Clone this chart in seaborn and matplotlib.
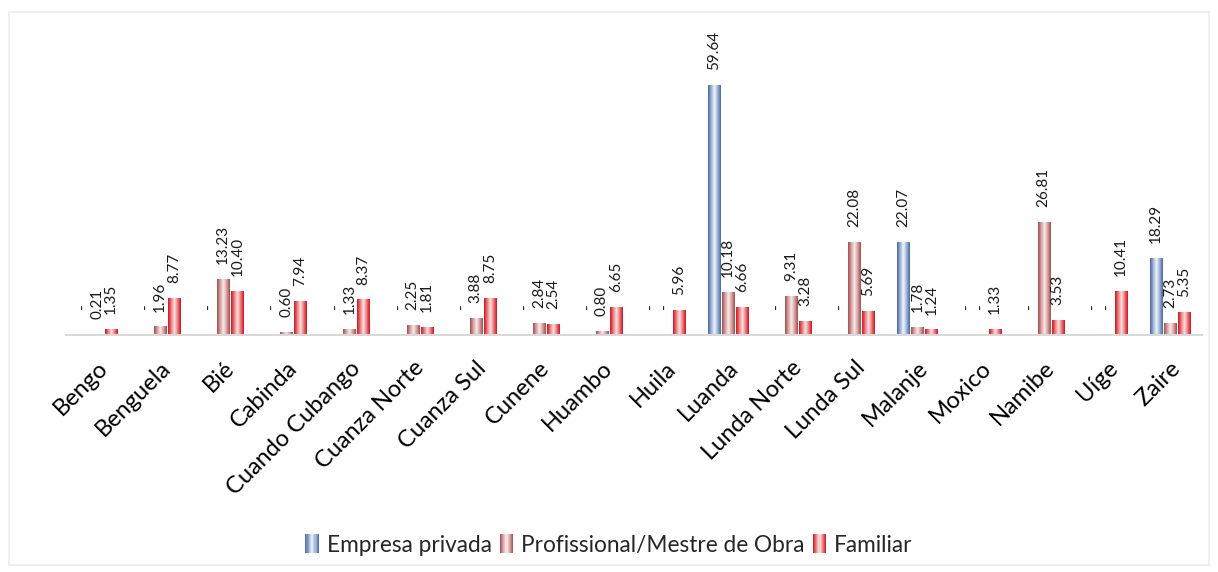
import numpy as np
import pandas as pd
import matplotlib
matplotlib.use("Agg")
import matplotlib.pyplot as plt
from matplotlib.colors import LinearSegmentedColormap
from matplotlib.legend_handler import HandlerBase
from matplotlib.patches import Rectangle
import seaborn as sns

# ----------------------------
# Data
# ----------------------------
provincias = ["Bengo", "Benguela", "Bié", "Cabinda", "Cuando Cubango",
              "Cuanza Norte", "Cuanza Sul", "Cunene", "Huambo", "Huila",
              "Luanda", "Lunda Norte", "Lunda Sul", "Malanje", "Moxico",
              "Namibe", "Uíge", "Zaire"]
series = ["Empresa privada", "Profissional/Mestre de Obra", "Familiar"]

empresa_privada = [0, 0, 0, 0, 0, 0, 0, 0, 0, 0,
                   59.64, 0, 0, 22.07, 0, 0, 0, 18.29]
profissional = [0.21, 1.96, 13.23, 0.60, 1.33, 2.25, 3.88, 2.84, 0.80, 0,
                10.18, 9.31, 22.08, 1.78, 0, 26.81, 0, 2.73]
familiar = [1.35, 8.77, 10.40, 7.94, 8.37, 1.81, 8.75, 2.54, 6.65, 5.96,
            6.66, 3.28, 5.69, 1.24, 1.33, 3.53, 10.41, 5.35]

# gradient colours per series: edge, mid, centre
grad_colors = {
    "Empresa privada": ["#45689f", "#9db3d6", "#f2f5fb"],
    "Profissional/Mestre de Obra": ["#a44c4c", "#d7a0a0", "#f8ecec"],
    "Familiar": ["#cf141c", "#ea7b7e", "#fde4e4"],
}


def make_cmap(name):
    edge, mid, centre = grad_colors[name]
    return LinearSegmentedColormap.from_list(name, [edge, mid, centre, mid, edge])


class GradientHandler(HandlerBase):
    def __init__(self, cmap):
        super().__init__()
        self.cmap = cmap

    def create_artists(self, legend, orig_handle, xdescent, ydescent,
                       width, height, fontsize, trans):
        n = 12
        w = width / n
        arts = []
        for i in range(n):
            r = Rectangle((-xdescent + i * w, -ydescent), w * 1.05, height,
                          facecolor=self.cmap((i + 0.5) / n), edgecolor="none",
                          transform=trans)
            arts.append(r)
        return arts


def main():
    sns.set_theme(style="white")
    plt.rcParams["font.family"] = ["Lato", "DejaVu Sans"]

    df = pd.DataFrame({
        "provincia": provincias * 3,
        "serie": [s for s in series for _ in provincias],
        "valor": empresa_privada + profissional + familiar,
    })

    fig = plt.figure(figsize=(12.18, 5.72), dpi=100)
    ax = fig.add_axes([65.5 / 1218, 237 / 572, 1136 / 1218, 320 / 572])

    sns.barplot(data=df, x="provincia", y="valor", hue="serie",
                hue_order=series, order=provincias, width=0.667, gap=0.14,
                legend=False, ax=ax, errorbar=None)

    cmaps = {s: make_cmap(s) for s in series}
    grad = np.linspace(0, 1, 64).reshape(1, -1)

    for cont, s in zip(ax.containers, series):
        for patch, val in zip(cont.patches, df.loc[df.serie == s, "valor"]):
            x, w, h = patch.get_x(), patch.get_width(), patch.get_height()
            if h > 0:
                ax.imshow(grad, cmap=cmaps[s], extent=(x, x + w, 0, h),
                          aspect="auto", interpolation="bilinear", zorder=2)
            patch.set_facecolor("none")
            patch.set_edgecolor("none")
            if val > 0:
                ax.annotate(f"{val:.2f}", (x + w / 2, h), xytext=(0, 11),
                            textcoords="offset points", rotation=90,
                            ha="center", va="bottom", fontsize=11,
                            color="#1a1a1a")
            else:
                ax.annotate("-", (x + w / 2, 0), xytext=(0, 19),
                            textcoords="offset points", rotation=90,
                            ha="center", va="bottom", fontsize=11,
                            color="#1a1a1a")

    ax.set_xlim(-0.5, len(provincias) - 0.5)
    ax.set_ylim(0, 76.4)
    ax.set_xlabel("")
    ax.set_ylabel("")
    ax.set_yticks([])
    for side in ["left", "right", "top"]:
        ax.spines[side].set_visible(False)
    ax.spines["bottom"].set_color("#d9d9d9")
    ax.spines["bottom"].set_linewidth(1.5)
    ax.tick_params(axis="x", length=0, pad=16)
    ax.set_xticks(range(len(provincias)))
    ax.set_xticklabels(provincias, rotation=45, ha="right",
                       rotation_mode="anchor", fontsize=17, color="black")

    handles = [Rectangle((0, 0), 1, 1) for _ in series]
    fig.legend(handles, series, loc="center", bbox_to_anchor=(0.5, 1 - 545 / 572),
               ncol=3, frameon=False, fontsize=16.3, handlelength=0.6,
               handleheight=0.9, handletextpad=0.35, columnspacing=0.35,
               handler_map={h: GradientHandler(cmaps[s]) for h, s in zip(handles, series)})

    # faint outer frame like the original chart area
    fig.patches.append(Rectangle((9 / 1218, 7 / 572), 1200 / 1218, 553 / 572,
                                 transform=fig.transFigure, fill=False,
                                 edgecolor="#ececec", linewidth=1.2))

    fig.savefig("out.png", dpi=100)


if __name__ == "__main__":
    main()
